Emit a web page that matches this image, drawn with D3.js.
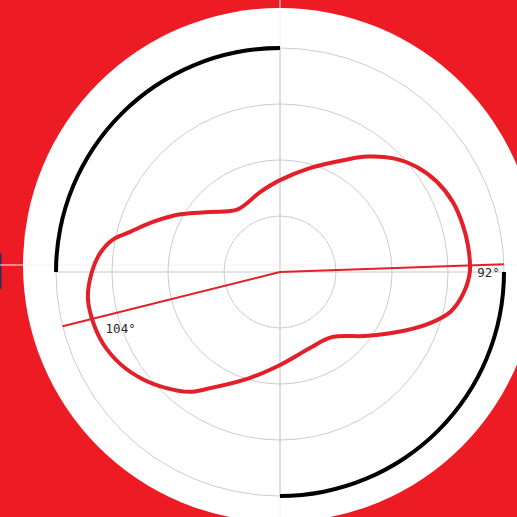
<!DOCTYPE html>
<html>
<head>
<meta charset="utf-8">
<script src="https://cdn.jsdelivr.net/npm/d3@7"></script>
<style>
  html, body { margin: 0; padding: 0; background: #ed1c24; overflow: hidden; }
  svg { display: block; }
</style>
</head>
<body>
<svg id="chart" width="517" height="517"></svg>
<script>
// ---- data ----
const curveAngles = [0, 16, 30, 37, 45, 52.5, 60, 68, 75.5, 82, 90, 97, 103, 108.5, 115, 126, 142, 158.5,
  180, 196, 211, 217, 224, 232, 240, 248, 256, 262.5, 270, 276, 281, 285, 291.5, 300, 310.5, 326, 346];
const curveValues = [1.64, 1.93, 2.31, 2.58, 2.87, 3.08, 3.23, 3.33, 3.37, 3.39, 3.39, 3.29, 3.13, 2.85, 2.47, 1.94, 1.48, 1.46,
  1.66, 1.97, 2.42, 2.68, 2.89, 3.11, 3.29, 3.41, 3.46, 3.46, 3.36, 3.23, 3.04, 2.77, 2.44, 2.06, 1.65, 1.35, 1.47];
const gridValues = [1, 2, 3, 4];
const rangeStarts = [270, 90];
const rangeEnds = [360, 180];
const rayAngles = [88, 256];
const rayLabels = ["92°", "104°"];

// ---- chart ----
const W = 517, H = 517;
const cx = 280, cy = 272;
const svg = d3.select("#chart");
const rad = d => d * Math.PI / 180;

const r = d3.scaleLinear().domain([0, 4]).range([0, 224]);

// white disc
svg.append("circle").attr("cx", 280).attr("cy", 265).attr("r", 257).attr("fill", "#ffffff");

// small dark sliver at left edge
svg.append("rect").attr("x", -1).attr("y", 253).attr("width", 2.5).attr("height", 36)
  .attr("rx", 1).attr("fill", "#2b3150");

// faint guide cross
svg.append("line").attr("x1", 0).attr("x2", W).attr("y1", 265).attr("y2", 265)
  .attr("stroke", "#fbeef0").attr("stroke-width", 1);
svg.append("line").attr("x1", 280).attr("x2", 280).attr("y1", 0).attr("y2", H)
  .attr("stroke", "#f6ecee").attr("stroke-width", 1);

const g = svg.append("g").attr("transform", `translate(${cx},${cy})`);

// grid circles
g.selectAll("circle.grid").data(gridValues).join("circle")
  .attr("class", "grid")
  .attr("r", d => r(d))
  .attr("fill", "none")
  .attr("stroke", "#cccccc")
  .attr("stroke-width", 1);

// axes
const rMax = r(gridValues[gridValues.length - 1]);
g.append("line").attr("x1", -rMax).attr("x2", rMax).attr("y1", 0).attr("y2", 0)
  .attr("stroke", "#c8c8c8").attr("stroke-width", 1);
g.append("line").attr("x1", 0).attr("x2", 0).attr("y1", -rMax).attr("y2", rMax)
  .attr("stroke", "#c8c8c8").attr("stroke-width", 1);

// highlighted ranges (black arcs)
const arc = d3.arc().innerRadius(rMax - 2).outerRadius(rMax + 2);
g.selectAll("path.range").data(rangeStarts.map((s, i) => ({ s, e: rangeEnds[i] }))).join("path")
  .attr("class", "range")
  .attr("d", d => arc({ startAngle: rad(d.s), endAngle: rad(d.e) }))
  .attr("fill", "#000000");

// curve
const pts = curveAngles.map((a, i) => [rad(a), r(curveValues[i])]);
const line = d3.lineRadial().angle(d => d[0]).radius(d => d[1])
  .curve(d3.curveCatmullRomClosed.alpha(0.5));
g.append("path").attr("d", line(pts))
  .attr("fill", "none")
  .attr("stroke", "#e3202a")
  .attr("stroke-width", 4)
  .attr("stroke-linejoin", "round");

// rays
const pxy = (a, v) => [r(v) * Math.sin(rad(a)), -r(v) * Math.cos(rad(a))];
rayAngles.forEach((a, i) => {
  const [x, y] = pxy(a, 4);
  g.append("line").attr("x1", 0).attr("y1", 0).attr("x2", x).attr("y2", y)
    .attr("stroke", "#e3202a").attr("stroke-width", 2);
});

// ray labels
{
  const [x0, y0] = pxy(rayAngles[0], 4);
  g.append("text").attr("x", x0 - 4).attr("y", y0 + 13)
    .attr("text-anchor", "end")
    .attr("font-family", "DejaVu Sans Mono, monospace").attr("font-size", 12.5)
    .attr("fill", "#2a2a2a").text(rayLabels[0]);
  const [x1, y1] = pxy(rayAngles[1], 3.21);
  g.append("text").attr("x", x1 + 0).attr("y", y1 + 18)
    .attr("text-anchor", "start")
    .attr("font-family", "DejaVu Sans Mono, monospace").attr("font-size", 12.5)
    .attr("fill", "#2a2a2a").text(rayLabels[1]);
}
</script>
</body>
</html>
